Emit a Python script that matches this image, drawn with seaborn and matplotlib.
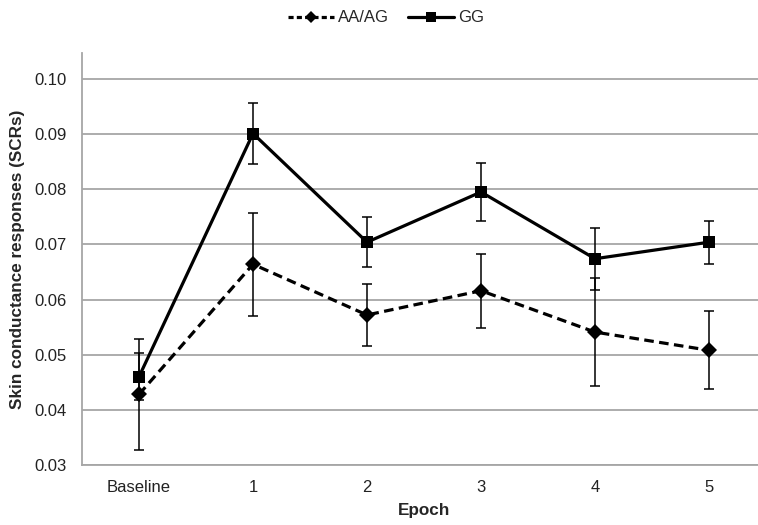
import numpy as np
import pandas as pd
import matplotlib
matplotlib.use("Agg")
import matplotlib.pyplot as plt
import seaborn as sns
from matplotlib.ticker import FixedLocator

# ---- data ----
epochs = ["Baseline", "1", "2", "3", "4", "5"]
aa_ag_mean = [0.0428, 0.0664, 0.0572, 0.0616, 0.0541, 0.0508]
aa_ag_err = [0.0101, 0.0093, 0.0056, 0.0067, 0.0098, 0.0071]
gg_mean = [0.0460, 0.0901, 0.0704, 0.0795, 0.0674, 0.0704]
gg_err = [0.0043, 0.0055, 0.0045, 0.0052, 0.0056, 0.0039]
groups = ["AA/AG", "GG"]
y_ticks = [0.03, 0.04, 0.05, 0.06, 0.07, 0.08, 0.09, 0.10]

sns.set_theme(style="white")
plt.rcParams["font.family"] = ["Liberation Sans", "DejaVu Sans"]

xpos = np.arange(len(epochs))
df = pd.DataFrame({
    "x": np.concatenate([xpos, xpos]),
    "SCR": aa_ag_mean + gg_mean,
    "Genotype": [groups[0]] * len(epochs) + [groups[1]] * len(epochs),
})

fig = plt.figure(figsize=(7.58, 5.25), dpi=100)
ax = fig.add_axes([82 / 758, 60 / 525, 684 / 758, 412 / 525])

grid_c = "#a6a6a6"
for v in y_ticks:
    ax.axhline(v, color=grid_c, lw=1.3, zorder=0)

ax.errorbar(xpos, aa_ag_mean, yerr=aa_ag_err, fmt="none", ecolor="black",
            elinewidth=1.1, capsize=3.5, capthick=1.1, zorder=2)
ax.errorbar(xpos, gg_mean, yerr=gg_err, fmt="none", ecolor="black",
            elinewidth=1.1, capsize=3.5, capthick=1.1, zorder=2)

dash_map = {"AA/AG": (3, 1.7), "GG": ""}
sns.lineplot(data=df, x="x", y="SCR", hue="Genotype", style="Genotype",
             palette={"AA/AG": "black", "GG": "black"},
             dashes=dash_map,
             markers={"AA/AG": "D", "GG": "s"},
             markersize=8, linewidth=2.3, markeredgewidth=0,
             ax=ax, zorder=3)

ax.set_xlim(-0.5, len(epochs) - 0.5)
ax.set_ylim(0.03, 0.1047)
ax.set_yticks(y_ticks)
ax.set_yticklabels([f"{v:.2f}" for v in y_ticks], fontsize=12, color="#222222")
ax.set_xticks(xpos)
ax.set_xticklabels(epochs, fontsize=12, color="#222222")
ax.xaxis.set_minor_locator(FixedLocator(np.arange(-0.5, len(epochs), 1.0)))
ax.tick_params(axis="x", which="major", length=0, pad=10.5)
ax.tick_params(axis="x", which="minor", length=5, width=1, color=grid_c, direction="out")
ax.tick_params(axis="y", which="major", length=5, width=1, color=grid_c, direction="out", pad=6)

for s in ["top", "right"]:
    ax.spines[s].set_visible(False)
for s in ["left", "bottom"]:
    ax.spines[s].set_color(grid_c)
    ax.spines[s].set_linewidth(1.3)

ax.set_xlabel("Epoch", fontsize=12.3, fontweight="bold", labelpad=6)
ax.set_ylabel("Skin conductance responses (SCRs)", fontsize=12.3, fontweight="bold", labelpad=7)

handles, labels = ax.get_legend_handles_labels()
for h, lab in zip(handles, labels):
    h.set_markersize(7 if lab == "GG" else 6.5)
    if dash_map.get(lab):
        h.set_dashes((1.6, 1.0))
ax.legend(handles, labels, loc="center", bbox_to_anchor=(386 / 758, 1 - 18 / 525),
          bbox_transform=fig.transFigure, ncol=2, frameon=False, fontsize=12,
          handlelength=2.75, handletextpad=0.25, columnspacing=1.1)

fig.savefig("out.png", dpi=100)
